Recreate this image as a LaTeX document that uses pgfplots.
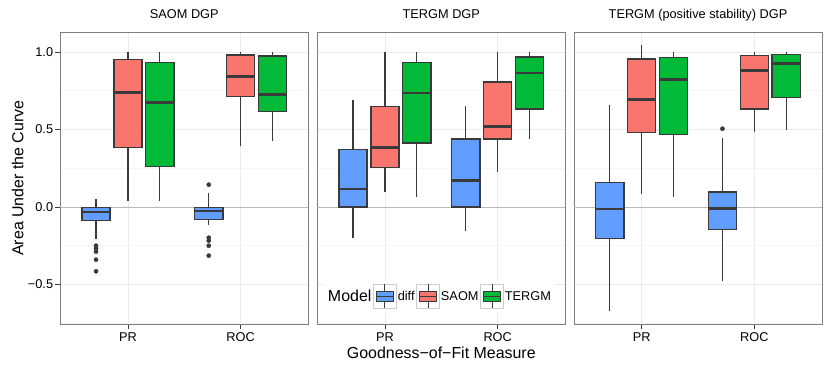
\documentclass[border=0pt]{standalone}
\usepackage{fontspec}
\setmainfont{Liberation Sans}
\usepackage{pgfplots}
\pgfplotsset{compat=1.18}
\usepgfplotslibrary{statistics}
\definecolor{ggblue}{HTML}{619CFF}
\definecolor{ggred}{HTML}{F8766D}
\definecolor{gggreen}{HTML}{00BA38}
\definecolor{gg20}{HTML}{3A3A3A}
\definecolor{gg50}{HTML}{7F7F7F}
\definecolor{gg90}{HTML}{EBEBEB}
\definecolor{gg95}{HTML}{F5F5F5}
\definecolor{gg80}{HTML}{CCCCCC}

\newcommand{\axfont}{\fontsize{12.8}{15}\selectfont}
\newcommand{\labfont}{\fontsize{16}{19}\selectfont}

\pgfplotsset{
  panel/.style={
    width=248bp, height=291.7bp, scale only axis, anchor=south west,
    xmin=0.4, xmax=2.6, ymin=-0.755, ymax=1.127,
    xtick={1,2}, xticklabels={PR,ROC},
    ytick={-0.5,0,0.5,1}, minor ytick={-0.75,-0.25,0.25,0.75},
    grid=both, major grid style={gg90, line width=0.8bp},
    minor grid style={gg95, line width=0.6bp},
    axis line style={gg50, line width=0.9bp},
    tick align=outside, xtick pos=bottom, ytick pos=left,
    major tick length=5bp, major tick style={gg20, line width=0.8bp},
    minor tick style={draw=none},
    tick label style={font=\axfont, black},
    xticklabel style={inner sep=0bp, yshift=-3.2bp},
    yticklabel style={inner sep=0bp, xshift=-2bp},
    title style={font=\axfont, anchor=base, at={(axis description cs:0.5,1.0264)}},
    boxplot/draw direction=y, boxplot/box extend=0.25, boxplot/whisker extend=0,
  },
  ggbox/.style={
    boxplot/every box/.style={draw=gg20, fill=#1, line width=1.4bp},
    boxplot/every whisker/.style={gg20, line width=1.3bp},
    boxplot/every median/.style={gg20, line width=2.5bp},
    draw=gg20, mark=*, mark size=2.1bp, mark options={draw=none, fill=gg20}},
  zeroline/.style={gray!55, line width=0.9bp, forget plot},
  key/.style={legend image code/.code={
      \draw[gg80, fill=white, line width=0.6bp] (0bp,-12bp) rectangle (22.7bp,12bp);
      \draw[gg20, line width=0.9bp] (11.35bp,-12bp) -- (11.35bp,12bp);
      \draw[gg20, fill=#1, line width=0.9bp] (2.6bp,-5bp) rectangle (20.1bp,5bp);
      \draw[gg20, line width=1.6bp] (2.6bp,0bp) -- (20.1bp,0bp);
  }},
}

\begin{document}
\begin{tikzpicture}
\useasboundingbox (0,0) rectangle (830bp,369bp);

% SAOM DGP
\begin{axis}[panel, at={(60.3bp,45bp)}, title={SAOM DGP},
  yticklabels={−0.5,0.0,0.5,1.0},
  ylabel={Area Under the Curve},
  ylabel style={font=\labfont, at={(axis description cs:-0.1492,0.5)}, anchor=base, rotate=0}]
\addplot[zeroline] coordinates {(0.4,0) (2.6,0)};
\addplot[ggbox=ggblue, boxplot prepared={draw position=0.717, lower whisker=-0.208, lower quartile=-0.088, median=-0.034, upper quartile=-0.002, upper whisker=0.054}]
  coordinates {(0,-0.250) (0,-0.267) (0,-0.288) (0,-0.340) (0,-0.415)};
\addplot[ggbox=ggred, boxplot prepared={draw position=1, lower whisker=0.037, lower quartile=0.383, median=0.740, upper quartile=0.953, upper whisker=1.0}]
  coordinates {};
\addplot[ggbox=gggreen, boxplot prepared={draw position=1.283, lower whisker=0.037, lower quartile=0.262, median=0.675, upper quartile=0.931, upper whisker=1.0}]
  coordinates {};
\addplot[ggbox=ggblue, boxplot prepared={draw position=1.717, lower whisker=-0.116, lower quartile=-0.082, median=-0.026, upper quartile=-0.002, upper whisker=0.092}]
  coordinates {(0,0.144) (0,-0.198) (0,-0.217) (0,-0.250) (0,-0.314)};
\addplot[ggbox=ggred, boxplot prepared={draw position=2, lower whisker=0.394, lower quartile=0.714, median=0.841, upper quartile=0.981, upper whisker=1.0}]
  coordinates {};
\addplot[ggbox=gggreen, boxplot prepared={draw position=2.283, lower whisker=0.428, lower quartile=0.615, median=0.725, upper quartile=0.974, upper whisker=1.0}]
  coordinates {};
\end{axis}

% TERGM DGP
\begin{axis}[panel, at={(317.3bp,45bp)}, title={TERGM DGP},
  yticklabels={}, major y tick style={draw=none},
  xlabel={Goodness−of−Fit Measure},
  xlabel style={font=\labfont, at={(axis description cs:0.5,-0.1166)}, anchor=base},
  legend columns=-1,
  legend style={at={(axis description cs:0.4927,0.0411)}, anchor=south, draw=none, fill=white,
    font=\axfont, inner xsep=3bp, inner ysep=3bp,
    nodes={inner xsep=1.3bp},
    /tikz/every odd column/.append style={column sep=0bp},
    /tikz/every even column/.append style={column sep=0.5bp}},
  legend cell align=left]
\addlegendimage{empty legend}
\addlegendentry{\labfont Model}
\addlegendimage{key=ggblue}
\addlegendentry{diff}
\addlegendimage{key=ggred}
\addlegendentry{SAOM}
\addlegendimage{key=gggreen}
\addlegendentry{TERGM}
\addplot[zeroline] coordinates {(0.4,0) (2.6,0)};
\addplot[ggbox=ggblue, boxplot prepared={draw position=0.717, lower whisker=-0.202, lower quartile=0.0, median=0.116, upper quartile=0.372, upper whisker=0.690}]
  coordinates {};
\addplot[ggbox=ggred, boxplot prepared={draw position=1, lower whisker=0.099, lower quartile=0.256, median=0.383, upper quartile=0.647, upper whisker=1.0}]
  coordinates {};
\addplot[ggbox=gggreen, boxplot prepared={draw position=1.283, lower whisker=0.067, lower quartile=0.413, median=0.735, upper quartile=0.931, upper whisker=1.0}]
  coordinates {};
\addplot[ggbox=ggblue, boxplot prepared={draw position=1.717, lower whisker=-0.155, lower quartile=0.0, median=0.170, upper quartile=0.439, upper whisker=0.650}]
  coordinates {};
\addplot[ggbox=ggred, boxplot prepared={draw position=2, lower whisker=0.226, lower quartile=0.439, median=0.518, upper quartile=0.806, upper whisker=1.0}]
  coordinates {};
\addplot[ggbox=gggreen, boxplot prepared={draw position=2.283, lower whisker=0.441, lower quartile=0.632, median=0.865, upper quartile=0.968, upper whisker=1.0}]
  coordinates {};
\end{axis}

% TERGM (positive stability) DGP
\begin{axis}[panel, at={(574bp,45bp)}, title={TERGM (positive stability) DGP},
  yticklabels={}, major y tick style={draw=none}]
\addplot[zeroline] coordinates {(0.4,0) (2.6,0)};
\addplot[ggbox=ggblue, boxplot prepared={draw position=0.717, lower whisker=-0.673, lower quartile=-0.202, median=-0.013, upper quartile=0.159, upper whisker=0.660}]
  coordinates {};
\addplot[ggbox=ggred, boxplot prepared={draw position=1, lower whisker=0.086, lower quartile=0.480, median=0.692, upper quartile=0.955, upper whisker=1.043}]
  coordinates {};
\addplot[ggbox=gggreen, boxplot prepared={draw position=1.283, lower whisker=0.065, lower quartile=0.469, median=0.824, upper quartile=0.965, upper whisker=1.0}]
  coordinates {};
\addplot[ggbox=ggblue, boxplot prepared={draw position=1.717, lower whisker=-0.475, lower quartile=-0.144, median=-0.011, upper quartile=0.097, upper whisker=0.447}]
  coordinates {(0,0.505)};
\addplot[ggbox=ggred, boxplot prepared={draw position=2, lower whisker=0.486, lower quartile=0.632, median=0.882, upper quartile=0.978, upper whisker=1.0}]
  coordinates {};
\addplot[ggbox=gggreen, boxplot prepared={draw position=2.283, lower whisker=0.495, lower quartile=0.708, median=0.927, upper quartile=0.985, upper whisker=1.0}]
  coordinates {};
\end{axis}
\end{tikzpicture}
\end{document}
